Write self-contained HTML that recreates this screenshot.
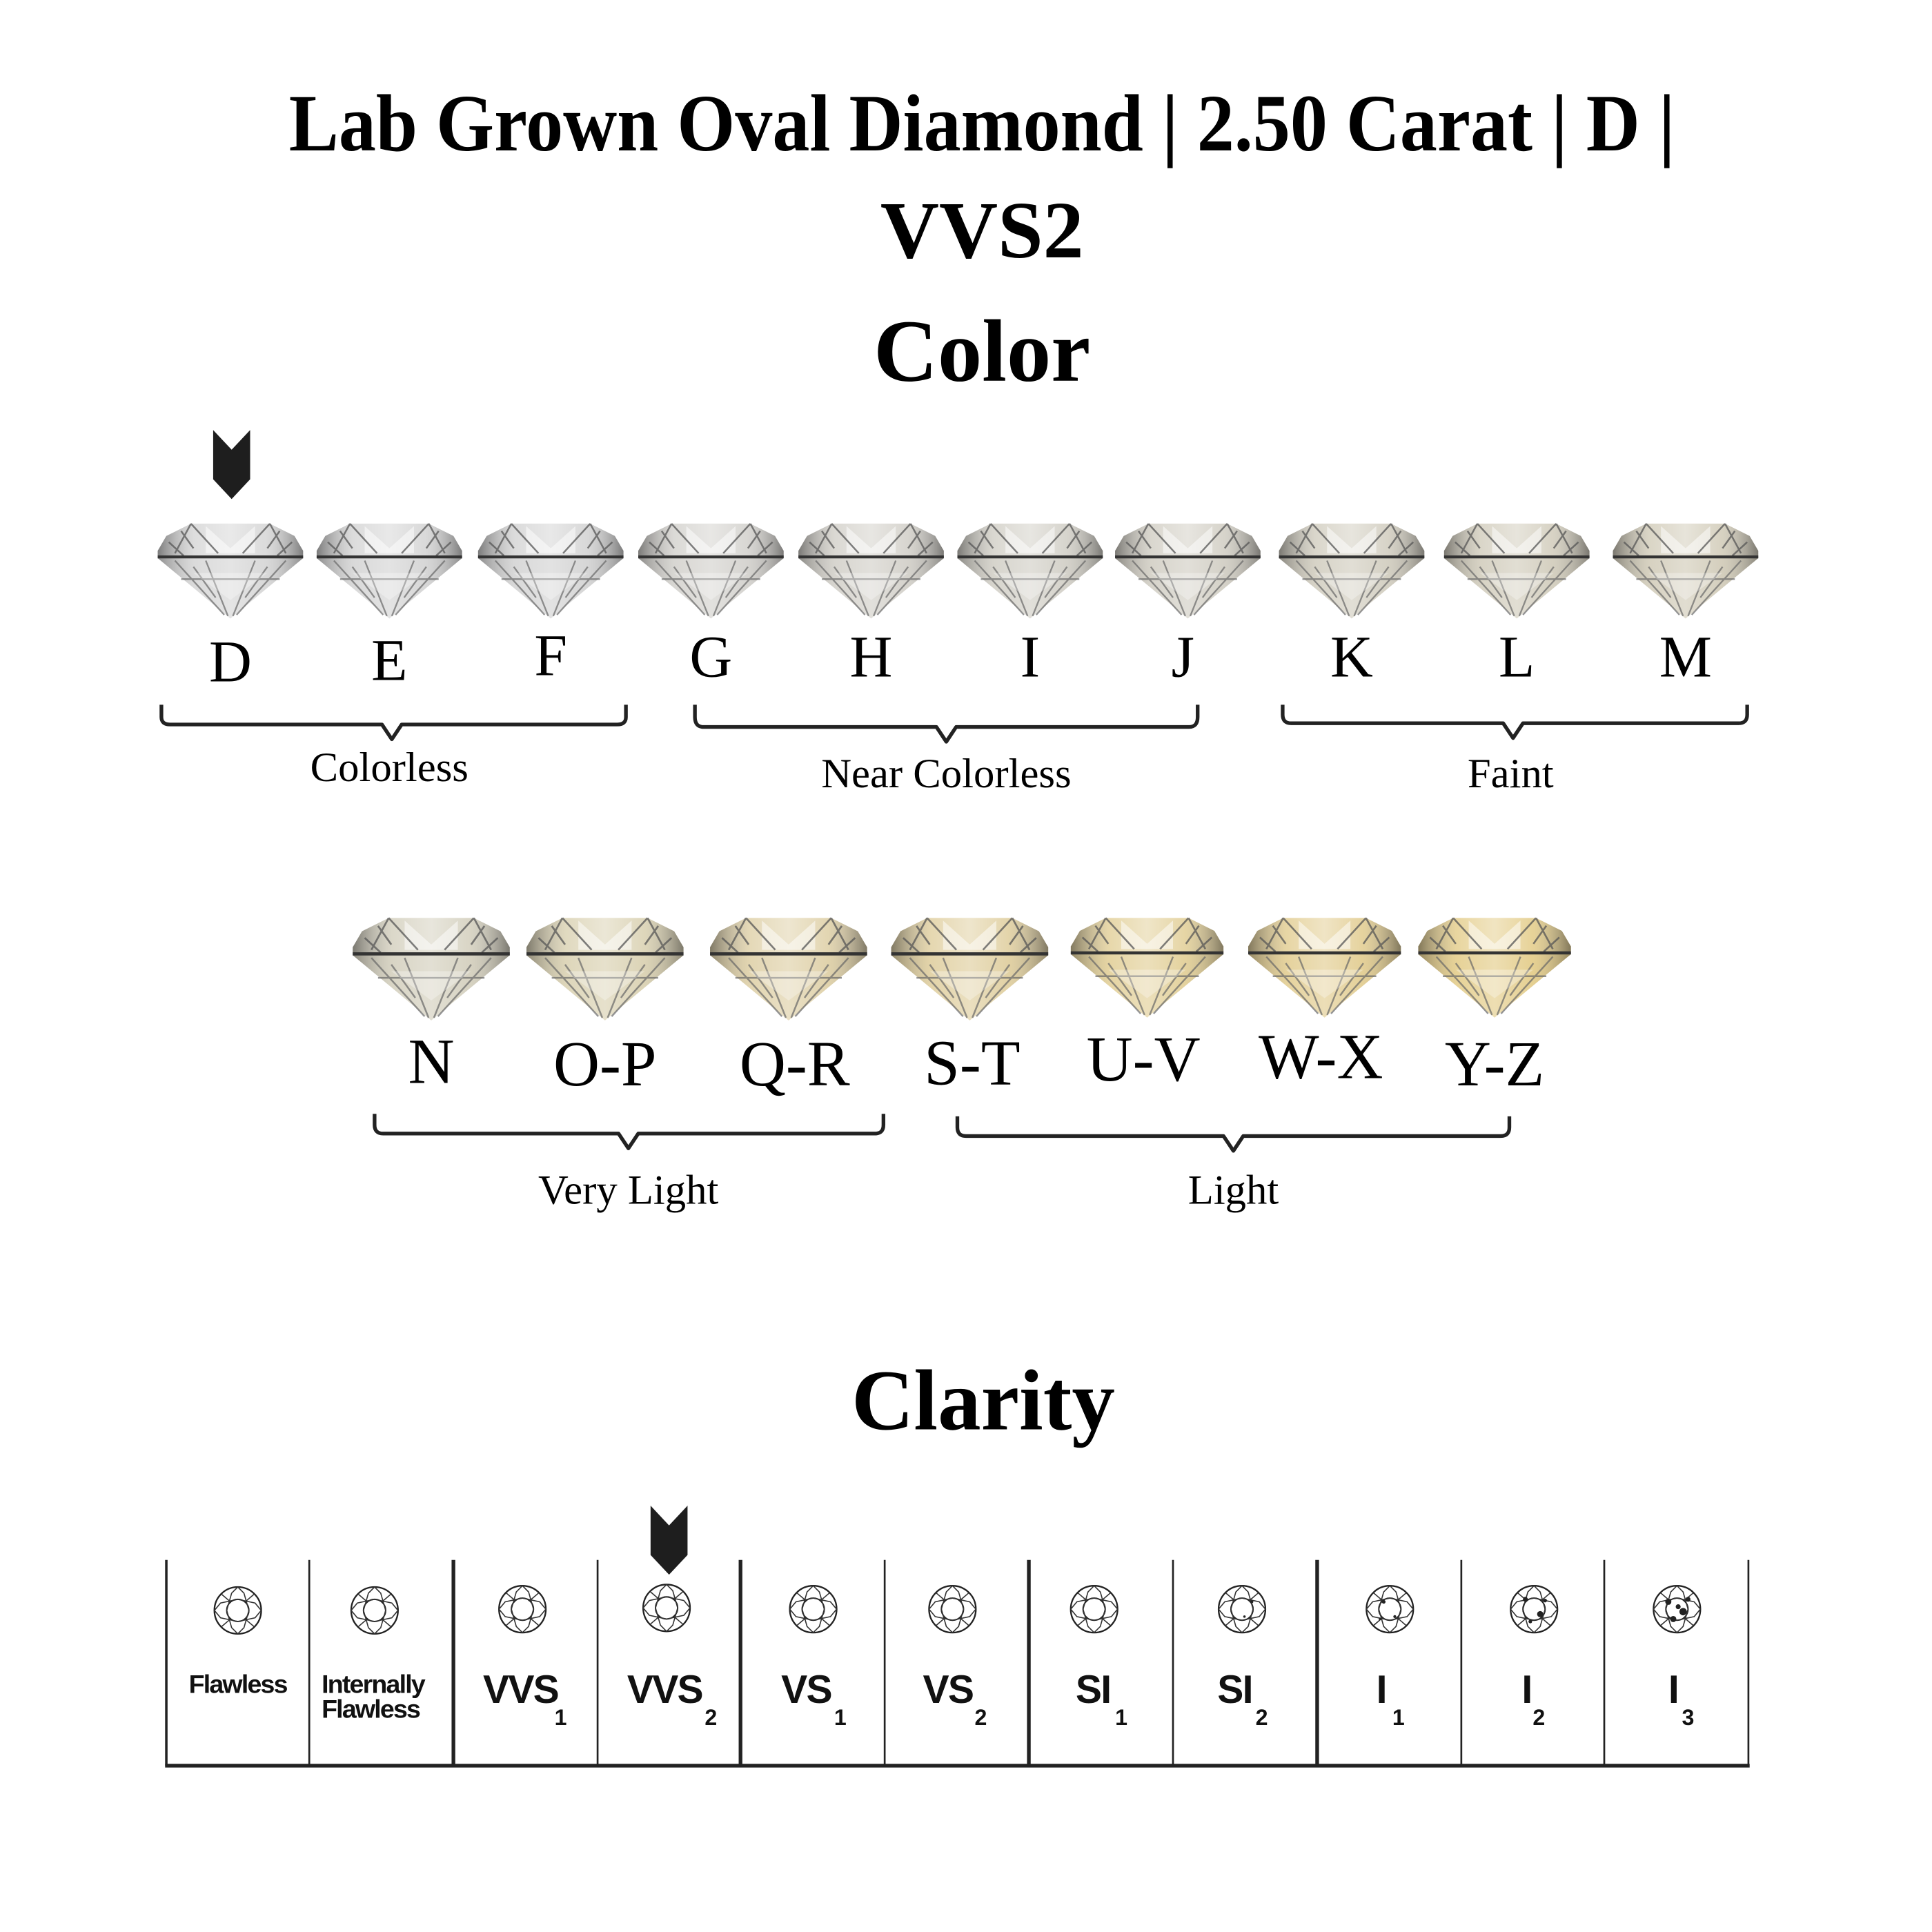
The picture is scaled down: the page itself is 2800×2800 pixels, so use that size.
<!DOCTYPE html>
<html><head><meta charset="utf-8"><style>
html,body{margin:0;padding:0;background:#fff;}
svg{display:block;}
.t{font-family:"Liberation Serif",serif;fill:#000;}
.s{font-family:"Liberation Sans",sans-serif;font-weight:bold;fill:#111;}
</style></head><body>
<svg width="2800" height="2800" viewBox="0 0 1568 1568" xmlns="http://www.w3.org/2000/svg">
<defs>
<linearGradient id="hl" x1="0" y1="0" x2="1" y2="0">
<stop offset="0" stop-color="#444" stop-opacity=".6"/>
<stop offset=".25" stop-color="#fff" stop-opacity=".3"/>
<stop offset=".5" stop-color="#fff" stop-opacity=".55"/>
<stop offset=".75" stop-color="#fff" stop-opacity=".25"/>
<stop offset="1" stop-color="#444" stop-opacity=".6"/>
</linearGradient>
<g id="dia">
<path d="M-32,0 L32,0 L52,10 L59,22 L59,28 L-59,28 L-59,22 L-52,10 Z" fill="currentColor"/>
<path d="M-59,28 L59,28 L0,77 Z" fill="currentColor"/>
<path d="M-32,0 L32,0 L52,10 L59,22 L59,28 L-59,28 L-59,22 L-52,10 Z" fill="url(#hl)"/>
<path d="M-59,28 L59,28 L0,77 Z" fill="url(#hl)" opacity=".8"/>
<path d="M-20,2 L0,20 L20,2 L20,24 L-20,24 Z" fill="#fff" opacity=".5"/>
<path d="M-32,0 L-45,24 M32,0 L45,24 M-32,0 L-10,24 M32,0 L10,24 M-50,15 L-38,26 M50,15 L38,26 M-40,6 L-30,20 M40,6 L30,20" stroke="#555" stroke-width="1.4" fill="none" opacity=".75"/>
<path d="M-45,30 L-5,74 M45,30 L5,74 M-20,30 L-2,75 M20,30 L2,75 M-40,45 L40,45 M-30,35 L-12,60 M30,35 L12,60" stroke="#666" stroke-width="1.3" fill="none" opacity=".7"/>
<path d="M-30,40 L30,40 L0,62 Z" fill="#fff" opacity=".3"/>
<line x1="-59" y1="27" x2="59" y2="27" stroke="#333" stroke-width="2.4"/>
</g>
<g id="clr">
<circle r="19" fill="none" stroke="#222" stroke-width="1.3"/>
<circle r="9" fill="none" stroke="#222" stroke-width="1.1"/>
<path d="M0,-19 L5,-14 L9,0 M0,-19 L-5,-14 L-9,0 M0,19 L5,14 L9,0 M0,19 L-5,14 L-9,0 M-19,0 L-14,-6 L0,-9 M-19,0 L-14,6 L0,9 M19,0 L14,-6 L0,-9 M19,0 L14,6 L0,9 M-13,-13 L-6,-7 M13,-13 L6,-7 M-13,13 L-6,7 M13,13 L6,7" stroke="#333" stroke-width=".9" fill="none"/>
</g>
<path id="arr" d="M0,0 L15,16 L30,0 L30,40 L15,56 L0,40 Z" fill="#1e1e1e"/>
</defs>

<text class="t" x="797" y="122" font-size="66" font-weight="bold" text-anchor="middle" textLength="1125" lengthAdjust="spacingAndGlyphs">Lab Grown Oval Diamond | 2.50 Carat | D |</text>
<text class="t" x="797" y="209" font-size="66" font-weight="bold" text-anchor="middle">VVS2</text>
<text class="t" x="797" y="309" font-size="72" font-weight="bold" text-anchor="middle">Color</text>

<use href="#arr" x="173" y="349"/>

<g transform="translate(0,425)">
<use href="#dia" x="187" style="color:#cfcfcf"/>
<use href="#dia" x="316" style="color:#cdcdcd"/>
<use href="#dia" x="447" style="color:#cccccc"/>
<use href="#dia" x="577" style="color:#cccac5"/>
<use href="#dia" x="707" style="color:#cbc8c0"/>
<use href="#dia" x="836" style="color:#cac7bd"/>
<use href="#dia" x="964" style="color:#cac6ba"/>
<use href="#dia" x="1097" style="color:#cac5b5"/>
<use href="#dia" x="1231" style="color:#cac4b1"/>
<use href="#dia" x="1368" style="color:#cac3ad"/>
</g>
<g class="t" font-size="48" text-anchor="middle">
<text x="187" y="553">D</text><text x="316" y="552">E</text><text x="447" y="548">F</text>
<text x="577" y="549">G</text><text x="707" y="549">H</text><text x="836" y="549">I</text>
<text x="960" y="549">J</text><text x="1097" y="549">K</text><text x="1231" y="549">L</text><text x="1368" y="549">M</text>
</g>
<g fill="none" stroke="#222" stroke-width="3" stroke-linejoin="round">
<path d="M131,572 L131,582 Q131,588 138,588 L310,588 L318,600 L326,588 L501,588 Q508,588 508,582 L508,572"/>
<path d="M564,572 L564,582 Q564,590 571,590 L760,590 L768,602 L776,590 L965,590 Q972,590 972,582 L972,572"/>
<path d="M1041,572 L1041,580 Q1041,587 1048,587 L1220,587 L1228,599 L1236,587 L1411,587 Q1418,587 1418,580 L1418,572"/>
<path d="M304,904 L304,913 Q304,920 311,920 L502,920 L510,932 L518,920 L710,920 Q717,920 717,913 L717,904"/>
<path d="M777,906 L777,915 Q777,922 784,922 L993,922 L1001,934 L1009,922 L1218,922 Q1225,922 1225,915 L1225,906"/>
</g>
<g class="t" font-size="34" text-anchor="middle">
<text x="316" y="634">Colorless</text>
<text x="768" y="639">Near Colorless</text>
<text x="1226" y="639">Faint</text>
<text x="510" y="977">Very Light</text>
<text x="1001" y="977">Light</text>
</g>

<g transform="translate(0,745) ">
<g transform="translate(350,0) scale(1.08)"><use href="#dia" style="color:#ccc7b2"/></g>
<g transform="translate(491,0) scale(1.08)"><use href="#dia" style="color:#d3c9a4"/></g>
<g transform="translate(640,0) scale(1.08)"><use href="#dia" style="color:#d9c898"/></g>
<g transform="translate(787,0) scale(1.08)"><use href="#dia" style="color:#dac68e"/></g>
<g transform="translate(931,0) scale(1.05)"><use href="#dia" style="color:#ddc786"/></g>
<g transform="translate(1075,0) scale(1.05)"><use href="#dia" style="color:#ddc47e"/></g>
<g transform="translate(1213,0) scale(1.05)"><use href="#dia" style="color:#dfc476"/></g>
</g>
<g class="t" font-size="52" text-anchor="middle">
<text x="350" y="879">N</text><text x="491" y="881">O-P</text><text x="645" y="881">Q-R</text>
<text x="789" y="880">S-T</text><text x="928" y="877">U-V</text><text x="1072" y="875">W-X</text><text x="1213" y="881">Y-Z</text>
</g>

<text class="t" x="798" y="1160" font-size="70" font-weight="bold" text-anchor="middle">Clarity</text>

<use href="#arr" x="528" y="1222"/>

<g stroke="#222" fill="none">
<line x1="135" y1="1266" x2="135" y2="1433" stroke-width="2"/>
<line x1="251" y1="1266" x2="251" y2="1433" stroke-width="1.5"/>
<line x1="368" y1="1266" x2="368" y2="1433" stroke-width="3"/>
<line x1="485" y1="1266" x2="485" y2="1433" stroke-width="1.5"/>
<line x1="601" y1="1266" x2="601" y2="1433" stroke-width="3"/>
<line x1="718" y1="1266" x2="718" y2="1433" stroke-width="1.5"/>
<line x1="835" y1="1266" x2="835" y2="1433" stroke-width="3"/>
<line x1="952" y1="1266" x2="952" y2="1433" stroke-width="1.5"/>
<line x1="1069" y1="1266" x2="1069" y2="1433" stroke-width="3"/>
<line x1="1186" y1="1266" x2="1186" y2="1433" stroke-width="1.5"/>
<line x1="1302" y1="1266" x2="1302" y2="1433" stroke-width="1.5"/>
<line x1="1419" y1="1266" x2="1419" y2="1433" stroke-width="1.5"/>
<line x1="134" y1="1433" x2="1420" y2="1433" stroke-width="3"/>
</g>
<g>
<use href="#clr" x="193" y="1307"/><use href="#clr" x="304" y="1307"/><use href="#clr" x="424" y="1306"/>
<use href="#clr" x="541" y="1305"/><use href="#clr" x="660" y="1306"/><use href="#clr" x="773" y="1306"/>
<use href="#clr" x="888" y="1306"/><use href="#clr" x="1008" y="1306"/><use href="#clr" x="1128" y="1306"/>
<use href="#clr" x="1245" y="1306"/><use href="#clr" x="1361" y="1306"/>
</g>
<g fill="#222">
<circle cx="1123" cy="1300" r="1.5"/><circle cx="1132" cy="1312" r="1.2"/><circle cx="1120" cy="1314" r="1"/>
<circle cx="1238" cy="1298" r="2"/><circle cx="1250" cy="1310" r="2.5"/><circle cx="1242" cy="1316" r="1.5"/><circle cx="1254" cy="1299" r="1.5"/>
<circle cx="1354" cy="1300" r="2.5"/><circle cx="1366" cy="1308" r="3"/><circle cx="1358" cy="1314" r="2.5"/><circle cx="1370" cy="1298" r="2"/><circle cx="1362" cy="1304" r="2"/>
<circle cx="1016" cy="1300" r="1.2"/><circle cx="1010" cy="1312" r="1"/>
</g>
<g class="s" letter-spacing="-1">
<text x="193" y="1374" font-size="21" text-anchor="middle">Flawless</text>
<text x="261" y="1374" font-size="21">Internally</text>
<text x="261" y="1394" font-size="21">Flawless</text>
<text x="392" y="1382" font-size="32">VVS</text><text x="450" y="1400" font-size="18">1</text>
<text x="509" y="1382" font-size="32">VVS</text><text x="572" y="1400" font-size="18">2</text>
<text x="634" y="1382" font-size="32">VS</text><text x="677" y="1400" font-size="18">1</text>
<text x="749" y="1382" font-size="32">VS</text><text x="791" y="1400" font-size="18">2</text>
<text x="873" y="1382" font-size="32">SI</text><text x="905" y="1400" font-size="18">1</text>
<text x="988" y="1382" font-size="32">SI</text><text x="1019" y="1400" font-size="18">2</text>
<text x="1117" y="1382" font-size="32">I</text><text x="1130" y="1400" font-size="18">1</text>
<text x="1235" y="1382" font-size="32">I</text><text x="1244" y="1400" font-size="18">2</text>
<text x="1354" y="1382" font-size="32">I</text><text x="1365" y="1400" font-size="18">3</text>
</g>
</svg>
</body></html>
